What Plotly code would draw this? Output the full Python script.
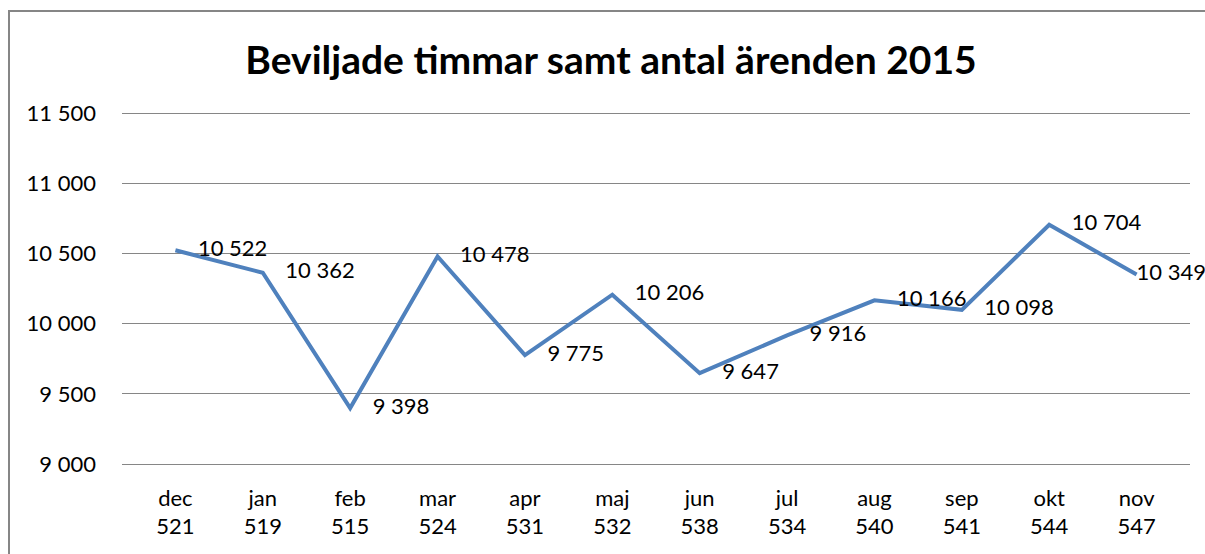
import plotly.graph_objects as go

months = ["dec", "jan", "feb", "mar", "apr", "maj", "jun", "jul", "aug", "sep", "okt", "nov"]
cases = [521, 519, 515, 524, 531, 532, 538, 534, 540, 541, 544, 547]
hours = [10522, 10362, 9398, 10478, 9775, 10206, 9647, 9916, 10166, 10098, 10704, 10349]
y_ticks = [9000, 9500, 10000, 10500, 11000, 11500]

W, H = 1205, 554
FONT = "Lato, Open Sans, sans-serif"
cats = [f"{m}<br>{c}" for m, c in zip(months, cases)]
# label offset (non-breaking spaces); the last label sits on its point, like the original
pads = ["\u00a0" * 4] * (len(hours) - 1) + [""]

# y mapping: 9000 -> 464px, 11500 -> 113px; range padded slightly so edge gridlines show
px_per_unit = (464 - 113) / 2500
y_lo, y_hi = 8980, 11520
bot_px = 464 + (9000 - y_lo) * px_per_unit
top_px = 113 - (y_hi - 11500) * px_per_unit

fig = go.Figure()
fig.add_trace(go.Scatter(
    x=cats, y=hours, mode="lines+text",
    line=dict(color="#4F81BD", width=4),
    text=[p + f"{v:,}".replace(",", " ") for p, v in zip(pads, hours)],
    textposition="middle right",
    textfont=dict(family=FONT, size=22, color="#000000"),
    cliponaxis=False,
    hoverinfo="skip",
))

fig.update_layout(
    width=W, height=H,
    margin=dict(l=0, r=0, t=0, b=0, autoexpand=False),
    paper_bgcolor="white", plot_bgcolor="white",
    separators=", ",
    showlegend=False,
    title=dict(text="<b>Beviljade timmar samt antal ärenden 2015</b>",
               x=611 / W, xanchor="center", y=1 - 60 / H, yanchor="middle",
               automargin=False,
               font=dict(family=FONT, size=39, color="#000000")),
    font=dict(family=FONT, size=22, color="#000000"),
    xaxis=dict(domain=[122 / W, 1190 / W], showgrid=False, zeroline=False,
               showline=False, ticks="", ticklabelstandoff=16, automargin=False,
               tickfont=dict(size=22)),
    yaxis=dict(domain=[1 - bot_px / H, 1 - top_px / H], range=[y_lo, y_hi],
               tickvals=y_ticks, tickformat=",d", showgrid=True,
               gridcolor="#868686", gridwidth=1, zeroline=False,
               showline=False, ticks="", ticklabelstandoff=25, automargin=False,
               tickfont=dict(size=22)),
    shapes=[dict(type="rect", xref="paper", yref="paper",
                 x0=9 / W, x1=1.02, y0=-0.02, y1=1 - 11 / H,
                 line=dict(color="#868686", width=2))],
)

fig.write_html("out.html", config={"displayModeBar": False},
               post_script="document.body.style.margin='0';document.body.style.overflow='hidden';")
